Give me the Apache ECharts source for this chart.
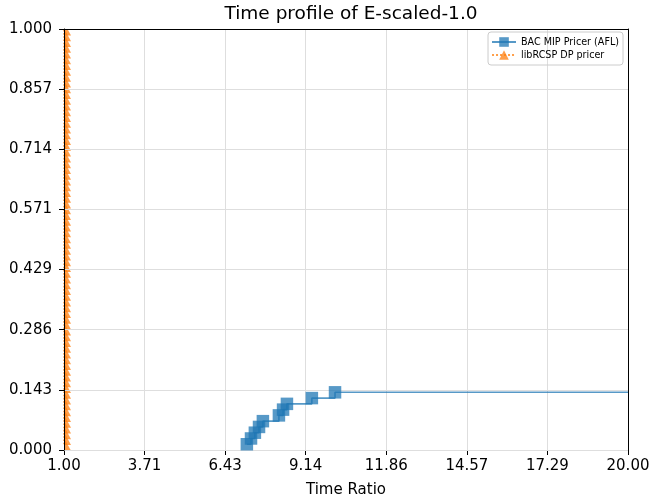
<!DOCTYPE html>
<html><head><meta charset="utf-8">
<script src="https://cdn.jsdelivr.net/npm/echarts@6/dist/echarts.min.js"></script>
<style>html,body{margin:0;padding:0;background:#fff}#c{width:654px;height:497px}</style>
</head><body><div id="c"></div>
<script>
// ---- data ----
const xTickLabels = ['1.00', '3.71', '6.43', '9.14', '11.86', '14.57', '17.29', '20.00'];
const yTickLabels = ['0.000', '0.143', '0.286', '0.429', '0.571', '0.714', '0.857', '1.000'];

const blueName = 'BAC MIP Pricer (AFL)';
const blueRatio = [7.16, 7.30, 7.43, 7.57, 7.70, 8.24, 8.38, 8.51, 9.35, 10.13, 20.00];
const blueFrac  = [0.0137, 0.0274, 0.0411, 0.0548, 0.0685, 0.0822, 0.0959, 0.1096, 0.1233, 0.1370, 0.1370];

const orangeName = 'libRCSP DP pricer';
const orangeRatio = 1.0;
const orangeFrac = [
  0.0137, 0.0274, 0.0411, 0.0548, 0.0685, 0.0822, 0.0959, 0.1096, 0.1233, 0.1370,
  0.1507, 0.1644, 0.1781, 0.1918, 0.2055, 0.2192, 0.2329, 0.2466, 0.2603, 0.2740,
  0.2877, 0.3014, 0.3151, 0.3288, 0.3425, 0.3562, 0.3699, 0.3836, 0.3973, 0.4110,
  0.4247, 0.4384, 0.4521, 0.4658, 0.4795, 0.4932, 0.5068, 0.5205, 0.5342, 0.5479,
  0.5616, 0.5753, 0.5890, 0.6027, 0.6164, 0.6301, 0.6438, 0.6575, 0.6712, 0.6849,
  0.6986, 0.7123, 0.7260, 0.7397, 0.7534, 0.7671, 0.7808, 0.7945, 0.8082, 0.8219,
  0.8356, 0.8493, 0.8630, 0.8767, 0.8904, 0.9041, 0.9178, 0.9315, 0.9452, 0.9589,
  0.9726, 0.9863, 1.0000
];

// ---- chart ----
const FONT = 'DejaVu Sans';
const halfTri = 'path://M0,0L0,12L6,12Z';
const quarterTri = 'path://M0,0L0,6L6,6L3,0Z';

const blueData = blueRatio.map((x, i) => {
  const item = { value: [x, blueFrac[i]] };
  if (i === blueRatio.length - 1) item.symbol = 'none';
  return item;
});
const orangeData = orangeFrac.map((y, i) => {
  const top = i === orangeFrac.length - 1;
  return {
    value: [orangeRatio, y],
    symbol: top ? quarterTri : halfTri,
    symbolSize: top ? [7, 6.5] : [7, 13],
    symbolOffset: top ? [3.5, 3.25] : [3.5, 0]
  };
});

const chart = echarts.init(document.getElementById('c'), null, { renderer: 'canvas' });
chart.setOption({
  animation: false,
  backgroundColor: '#fff',
  textStyle: { fontFamily: FONT },
  title: {
    text: 'Time profile of E-scaled-1.0',
    left: 346, top: 0, textAlign: 'center',
    textStyle: { fontFamily: FONT, fontSize: 18.5, fontWeight: 'normal', color: '#000' }
  },
  grid: { left: 64, right: 26, top: 29, bottom: 47, outerBoundsMode: 'none', containLabel: false },
  legend: {
    orient: 'vertical', right: 31, top: 32,
    padding: [5, 4, 5, 3], itemGap: 3, itemWidth: 24, itemHeight: 12,
    borderColor: '#cccccc', borderWidth: 1, borderRadius: 3,
    textStyle: { fontFamily: FONT, fontSize: 9.6, color: '#000' },
    data: [blueName, orangeName]
  },
  xAxis: [{
    type: 'value', min: 1, max: 20, interval: 19 / 7,
    name: 'Time Ratio', nameLocation: 'middle', nameGap: 33,
    nameTextStyle: { fontFamily: FONT, fontSize: 15, color: '#000' },
    axisLine: { show: true, onZero: false, lineStyle: { color: '#000', width: 1 } },
    axisTick: { show: true, inside: false, length: 5, lineStyle: { color: '#000' } },
    axisLabel: { show: true, margin: 9, fontFamily: FONT, fontSize: 15, color: '#000', showMinLabel: true, showMaxLabel: true,
      formatter: (v, i) => xTickLabels[i] !== undefined ? xTickLabels[i] : v.toFixed(2) },
    splitLine: { show: true, lineStyle: { color: '#dedede', width: 1 } }
  }, {
    type: 'value', min: 1, max: 20, position: 'top', z: 2,
    axisLine: { show: true, onZero: false, lineStyle: { color: '#000', width: 1 } },
    axisTick: { show: false }, axisLabel: { show: false }, splitLine: { show: false }
  }],
  yAxis: [{
    type: 'value', min: 0, max: 1, interval: 1 / 7, z: 2,
    axisLine: { show: true, onZero: false, lineStyle: { color: '#000', width: 1 } },
    axisTick: { show: true, inside: false, length: 5, lineStyle: { color: '#000' } },
    axisLabel: { show: true, margin: 12, fontFamily: FONT, fontSize: 15, color: '#000', showMinLabel: true, showMaxLabel: true,
      formatter: (v, i) => yTickLabels[i] !== undefined ? yTickLabels[i] : v.toFixed(3) },
    splitLine: { show: true, lineStyle: { color: '#dedede', width: 1 } }
  }, {
    type: 'value', min: 0, max: 1, position: 'right', z: 2,
    axisLine: { show: true, onZero: false, lineStyle: { color: '#000', width: 1 } },
    axisTick: { show: false }, axisLabel: { show: false }, splitLine: { show: false }
  }],
  series: [
    {
      name: blueName, type: 'line', step: 'end', z: 3,
      data: blueData,
      symbol: 'rect', symbolSize: 12.5, showSymbol: true, showAllSymbol: true,
      itemStyle: { color: '#1f77b4', opacity: 0.75 },
      lineStyle: { color: '#1f77b4', width: 1.6, opacity: 0.75 },
      emphasis: { disabled: true }
    },
    {
      name: orangeName, type: 'line', step: 'end', z: 1,
      data: orangeData,
      symbol: 'triangle', symbolSize: 13, showSymbol: true, showAllSymbol: true,
      itemStyle: { color: '#ff7f0e', opacity: 0.75 },
      lineStyle: { color: '#ff7f0e', width: 1.6, type: 'dotted', opacity: 0.75 },
      emphasis: { disabled: true }
    }
  ]
});
</script>
</body></html>
